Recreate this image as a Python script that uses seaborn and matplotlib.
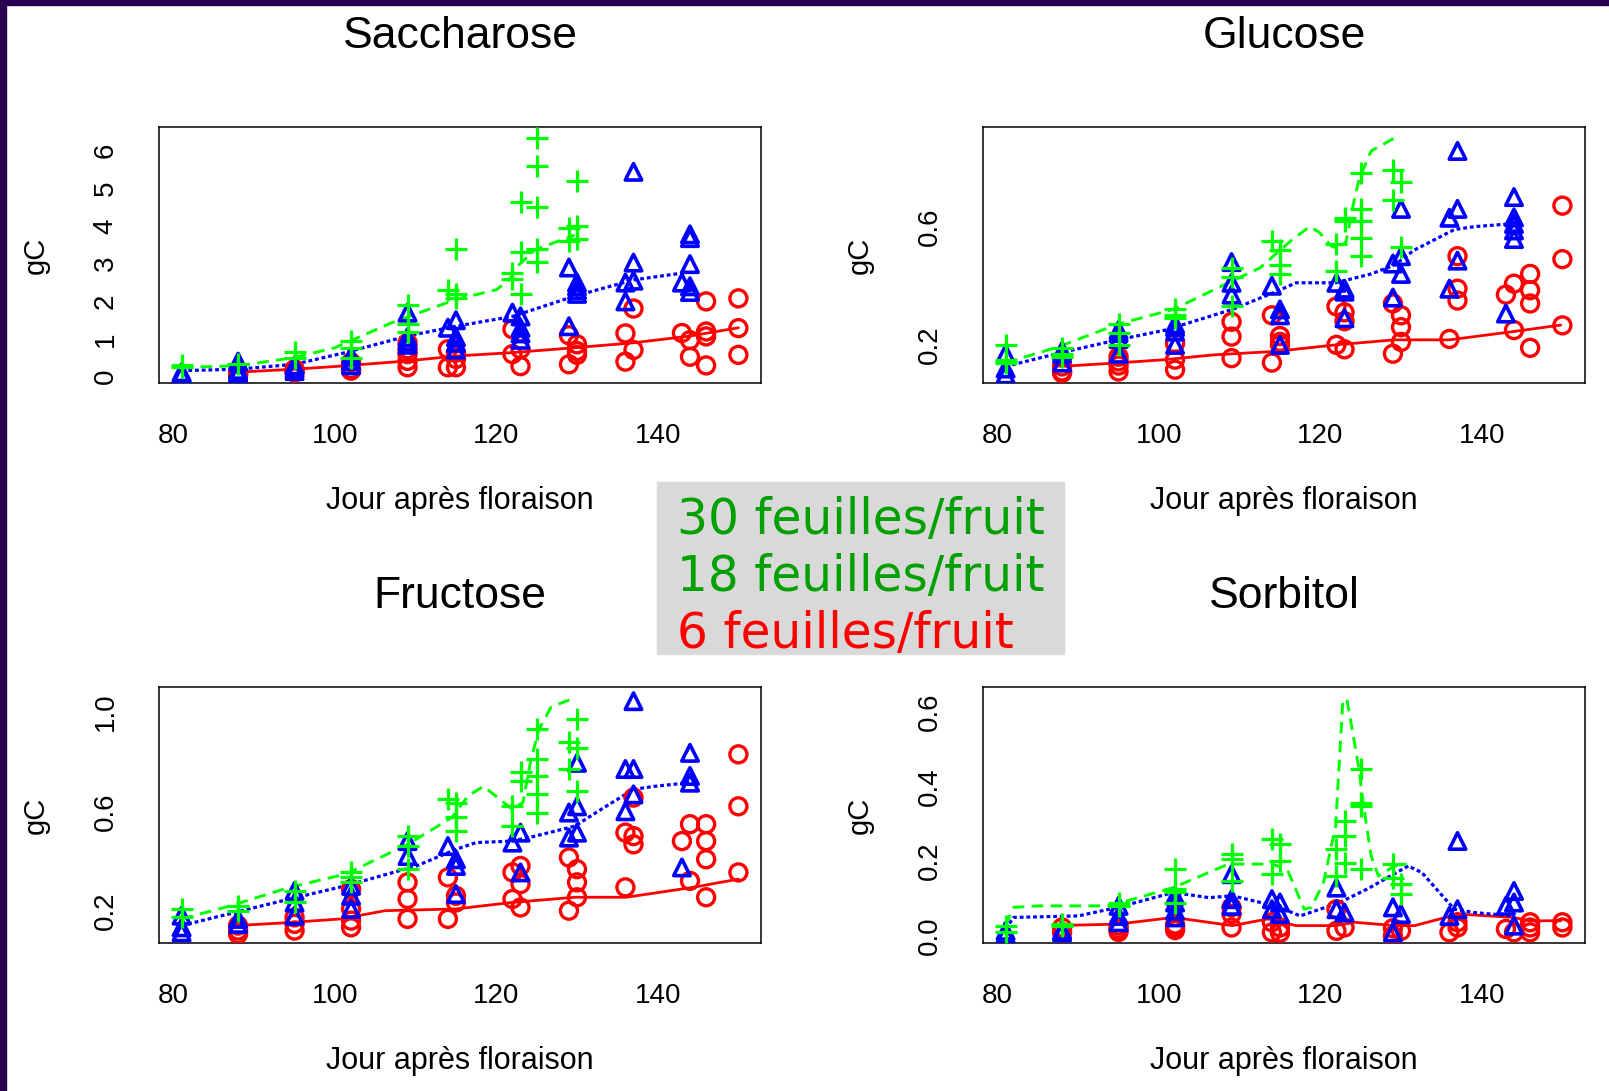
import matplotlib
matplotlib.use("Agg")
import matplotlib.pyplot as plt
import seaborn as sns
import numpy as np
import pandas as pd
from matplotlib.patches import Rectangle

# ---- Saccharose ----
sac_g_day = [81, 81, 88, 95, 95, 102, 102, 102, 109, 109, 109, 114, 115, 115, 115, 122, 122, 123, 123, 123,
             125, 125, 125, 125, 125, 130, 130, 130, 129, 129]
sac_g_val = [0.25, 0.32, 0.35, 0.5, 0.65, 0.95, 0.75, 0.5, 1.9, 1.4, 1.2, 2.3, 3.4, 2.2, 2.1, 2.75, 2.6, 4.65, 3.3, 2.2,
             6.35, 5.6, 4.5, 3.4, 3.05, 5.2, 4.0, 3.65, 3.95, 3.6]
sac_b_day = [81, 81, 81, 88, 88, 88, 88, 95, 95, 95, 102, 102, 102, 109, 109, 109, 109, 114, 115, 115, 115, 115,
             122, 123, 123, 123, 123, 129, 129, 130, 130, 130, 130, 136, 136, 137, 137, 137, 144, 144, 144, 143, 144, 144]
sac_b_val = [0.05, 0.08, 0.12, 0.08, 0.12, 0.18, 0.4, 0.15, 0.22, 0.3, 0.3, 0.42, 0.55, 1.7, 1.05, 0.95, 0.85,
             1.3, 1.5, 1.05, 0.9, 0.72, 1.7, 1.6, 1.3, 1.15, 0.98, 2.9, 1.34, 2.5, 2.4, 2.3, 2.2, 2.5, 2.0,
             5.44, 3.03, 2.55, 3.78, 3.68, 2.99, 2.5, 2.4, 2.25]
sac_r_day = [88, 88, 88, 95, 95, 95, 102, 102, 102, 109, 109, 109, 109, 109, 114, 115, 114, 115, 115,
             122, 122, 123, 123, 129, 129, 130, 130, 130, 136, 136, 137, 137, 143, 144, 144, 146, 146, 146, 146,
             150, 150, 150]
sac_r_val = [0.03, 0.08, 0.12, 0.11, 0.16, 0.2, 0.16, 0.2, 0.38, 0.25, 0.42, 0.6, 0.73, 0.9, 0.25, 0.25, 0.73,
             0.47, 0.64, 1.26, 0.6, 0.73, 0.28, 1.1, 0.33, 0.86, 0.68, 0.58, 1.15, 0.4, 1.81, 0.71, 1.16, 0.97,
             0.53, 2.0, 1.2, 1.07, 0.3, 2.08, 1.29, 0.58]
sac_g_line_day = [81, 88, 95, 100, 107, 115, 120, 121.6, 122.8, 124.8, 129.7]
sac_g_line_val = [0.25, 0.29, 0.51, 0.77, 1.43, 2.05, 2.31, 2.57, 2.97, 3.37, 3.76]
sac_b_line_day = [81, 88, 95, 101.3, 109, 115, 122, 129.7, 137, 143]
sac_b_line_val = [0.16, 0.2, 0.33, 0.64, 1.08, 1.34, 1.6, 2.14, 2.57, 2.75]
sac_r_line_day = [87, 95, 101.3, 109, 115, 122, 129.7, 137, 144, 150]
sac_r_line_val = [0.11, 0.2, 0.29, 0.42, 0.55, 0.64, 0.77, 0.9, 1.08, 1.3]

# ---- Glucose ----
glu_g_day = [81, 81, 81, 88, 88, 88, 95, 95, 95, 102, 102, 102, 109, 109, 109, 114, 115, 115, 115,
             122, 122, 123, 123, 125, 125, 125, 125, 125, 129, 130, 129, 130]
glu_g_val = [0.2, 0.15, 0.14, 0.19, 0.16, 0.17, 0.27, 0.24, 0.2, 0.32, 0.3, 0.29, 0.46, 0.43, 0.33,
             0.55, 0.52, 0.47, 0.44, 0.54, 0.45, 0.63, 0.62, 0.78, 0.66, 0.62, 0.56, 0.5, 0.79, 0.75, 0.69, 0.53]
glu_b_day = [81, 81, 81, 88, 88, 88, 95, 95, 95, 95, 102, 102, 102, 102, 109, 109, 109, 114, 115, 115, 115,
             122, 123, 123, 123, 129, 130, 130, 130, 129, 137, 137, 136, 137, 136, 144, 144, 144, 144, 144, 143]
glu_b_val = [0.17, 0.1, 0.12, 0.14, 0.18, 0.17, 0.25, 0.24, 0.22, 0.17, 0.245, 0.2, 0.27, 0.26, 0.48, 0.37, 0.41,
             0.4, 0.32, 0.3, 0.2, 0.41, 0.39, 0.38, 0.29, 0.36, 0.66, 0.5, 0.44, 0.475, 0.856, 0.66, 0.63, 0.485,
             0.39, 0.7, 0.631, 0.609, 0.587, 0.558, 0.306]
glu_r_day = [88, 88, 88, 95, 95, 95, 95, 102, 102, 102, 109, 109, 109, 114, 114, 115, 115, 115,
             122, 123, 122, 123, 123, 129, 129, 130, 130, 130, 136, 137, 137, 137, 144, 143, 144,
             146, 146, 146, 146, 150, 150, 150]
glu_r_val = [0.105, 0.11, 0.127, 0.16, 0.11, 0.13, 0.144, 0.116, 0.15, 0.205, 0.155, 0.228, 0.278,
             0.14, 0.3, 0.23, 0.21, 0.2, 0.33, 0.31, 0.2, 0.185, 0.28, 0.34, 0.17, 0.3, 0.26, 0.21,
             0.22, 0.5, 0.39, 0.35, 0.407, 0.37, 0.25, 0.44, 0.385, 0.34, 0.19, 0.671, 0.49, 0.266]
glu_g_line_day = [81, 87.6, 94.9, 101.8, 108.6, 112.5, 116.6, 118.7, 119.9, 121.3, 122.3, 123.2, 124.2, 124.8,
                  126.3, 129.2]
glu_g_line_val = [0.139, 0.194, 0.27, 0.32, 0.41, 0.46, 0.558, 0.6, 0.58, 0.535, 0.525, 0.55, 0.69, 0.76,
                  0.856, 0.9]
glu_b_line_day = [81, 87.6, 94.9, 100.8, 109.1, 114.5, 117, 121.9, 126.3, 129.2, 131.6, 136.6, 139.1, 143.9]
glu_b_line_val = [0.127, 0.172, 0.217, 0.25, 0.32, 0.38, 0.41, 0.41, 0.44, 0.47, 0.52, 0.59, 0.6, 0.61]
glu_r_line_day = [87.8, 94.9, 100.8, 106.7, 114.5, 121.9, 129.2, 136, 143.9, 149.8]
glu_r_line_val = [0.127, 0.139, 0.15, 0.166, 0.178, 0.2, 0.217, 0.217, 0.245, 0.267]

# ---- Fructose ----
fru_g_day = [81, 81, 88, 88, 95, 95, 102, 102, 102, 109, 109, 109, 114, 115, 115, 115, 122, 122, 123, 123,
             125, 125, 125, 125, 125, 129, 130, 130, 129, 130]
fru_g_val = [0.207, 0.173, 0.22, 0.2, 0.28, 0.233, 0.354, 0.334, 0.314, 0.5, 0.46, 0.367, 0.648, 0.635, 0.575,
             0.52, 0.54, 0.62, 0.76, 0.72, 0.93, 0.81, 0.74, 0.67, 0.595, 0.88, 0.97, 0.855, 0.77, 0.68]
fru_b_day = [81, 81, 81, 88, 88, 95, 95, 95, 102, 102, 102, 109, 109, 114, 115, 115, 115, 122, 123, 123,
             129, 130, 130, 130, 129, 137, 136, 137, 137, 136, 144, 144, 144, 143]
fru_b_val = [0.18, 0.113, 0.133, 0.147, 0.167, 0.28, 0.233, 0.18, 0.26, 0.207, 0.3, 0.48, 0.42, 0.46, 0.407,
             0.38, 0.267, 0.474, 0.514, 0.354, 0.595, 0.62, 0.795, 0.514, 0.494, 1.043, 0.77, 0.77, 0.668, 0.6,
             0.835, 0.742, 0.715, 0.374]
fru_r_day = [88, 88, 88, 95, 95, 95, 102, 102, 102, 102, 109, 109, 109, 114, 114, 115, 115,
             122, 122, 123, 123, 123, 129, 129, 130, 130, 130, 136, 136, 137, 137, 137, 143, 144, 144,
             146, 146, 146, 146, 150, 150, 150]
fru_r_val = [0.106, 0.12, 0.14, 0.12, 0.173, 0.147, 0.133, 0.16, 0.287, 0.207, 0.167, 0.247, 0.314, 0.167,
             0.334, 0.233, 0.26, 0.247, 0.354, 0.38, 0.307, 0.213, 0.2, 0.414, 0.367, 0.314, 0.254, 0.294,
             0.514, 0.5, 0.467, 0.655, 0.48, 0.548, 0.32, 0.548, 0.48, 0.407, 0.254, 0.829, 0.62, 0.354]
fru_g_line_day = [81, 87.1, 94.4, 101.3, 109.1, 114.5, 116.5, 118.4, 119.9, 121.9, 123.3, 124.3, 125.3, 126.8, 129.7]
fru_g_line_val = [0.167, 0.22, 0.294, 0.347, 0.468, 0.575, 0.662, 0.7, 0.662, 0.61, 0.635, 0.81, 0.93, 1.02, 1.056]
fru_b_line_day = [81, 87.6, 94.4, 101.3, 110.1, 115, 117.5, 121.9, 124.8, 129.7, 133.6, 137, 139.5, 143.9]
fru_b_line_val = [0.14, 0.193, 0.247, 0.3, 0.38, 0.447, 0.474, 0.48, 0.5, 0.54, 0.62, 0.688, 0.7, 0.715]
fru_r_line_day = [87.8, 94.7, 100.8, 106.2, 115, 121.9, 129.7, 136.1, 144.4, 150]
fru_r_line_val = [0.14, 0.153, 0.167, 0.2, 0.207, 0.233, 0.254, 0.254, 0.294, 0.327]

# ---- Sorbitol ----
sor_g_day = [81, 81, 88, 88, 95, 95, 102, 102, 102, 102, 109, 109, 109, 114, 115, 115, 114,
             122, 122, 123, 123, 123, 125, 125, 125, 125, 129, 130, 130, 129]
sor_g_val = [0.027, 0.009, 0.027, 0.031, 0.089, 0.08, 0.178, 0.089, 0.125, 0.116, 0.218, 0.147, 0.205,
             0.259, 0.245, 0.2, 0.165, 0.232, 0.16, 0.308, 0.267, 0.196, 0.446, 0.357, 0.348, 0.178,
             0.192, 0.138, 0.111, 0.156]
sor_b_day = [81, 81, 88, 88, 95, 95, 95, 102, 102, 102, 102, 109, 109, 109, 114, 115, 114, 115,
             122, 122, 123, 129, 130, 129, 137, 136, 137, 144, 144, 143, 144]
sor_b_val = [0.004, 0.013, 0.009, 0.015, 0.08, 0.053, 0.036, 0.089, 0.107, 0.067, 0.049, 0.165, 0.098, 0.08,
             0.098, 0.089, 0.071, 0.058, 0.129, 0.071, 0.062, 0.076, 0.058, 0.009, 0.254, 0.053, 0.071,
             0.12, 0.089, 0.08, 0.027]
sor_r_day = [88, 88, 95, 95, 95, 102, 102, 102, 109, 109, 109, 114, 115, 115, 114, 122, 123, 122,
             129, 130, 129, 136, 137, 137, 143, 144, 146, 146, 146, 150, 150]
sor_r_val = [0.009, 0.022, 0.018, 0.027, 0.01, 0.022, 0.015, 0.03, 0.022, 0.058, 0.076, 0.009, 0.022, 0.008,
             0.036, 0.013, 0.022, 0.071, 0.0, 0.013, 0.02, 0.009, 0.022, 0.036, 0.018, 0.009, 0.009, 0.036,
             0.022, 0.022, 0.036]
sor_g_line_day = [81, 82, 85.1, 93.9, 101.8, 108.6, 114, 115.9, 118, 118.9, 120.4, 121.9, 122.8, 123.3, 124.1,
                  124.8, 125.3, 126.3, 127.2, 129.2, 130.7]
sor_g_line_val = [0.027, 0.076, 0.08, 0.08, 0.129, 0.192, 0.192, 0.178, 0.071, 0.076, 0.143, 0.294, 0.633,
                  0.633, 0.535, 0.446, 0.357, 0.214, 0.16, 0.187, 0.192]
sor_b_line_day = [81, 82, 90, 94.9, 101.8, 106.2, 109.1, 112.6, 114.5, 117.5, 119.4, 122.4, 125.8, 130.9, 132.6,
                  136.6, 139.1, 143.9]
sor_b_line_val = [0.018, 0.049, 0.053, 0.076, 0.116, 0.102, 0.107, 0.089, 0.08, 0.053, 0.067, 0.089, 0.125,
                  0.187, 0.169, 0.071, 0.062, 0.053]
sor_r_line_day = [86.9, 94.9, 101.8, 109.1, 113.5, 117, 121.9, 124.3, 129.2, 131.7, 137.1, 143.9, 145.9, 149.8]
sor_r_line_val = [0.027, 0.031, 0.049, 0.027, 0.045, 0.027, 0.027, 0.036, 0.027, 0.027, 0.058, 0.049, 0.04, 0.04]

legend_labels = ["30 feuilles/fruit", "18 feuilles/fruit", "6 feuilles/fruit"]
legend_colors = ["#00A000", "#00A000", "#FF0000"]

GREEN, BLUE, RED = "#00FF00", "#0000FF", "#FF0000"

sns.set_style("white")
plt.rcParams["font.family"] = ["Liberation Sans", "DejaVu Sans"]
plt.rcParams["text.color"] = "black"
plt.rcParams["axes.labelcolor"] = "black"
plt.rcParams["xtick.color"] = "black"
plt.rcParams["ytick.color"] = "black"

W, H = 1609, 1091
fig = plt.figure(figsize=(W / 100, H / 100), dpi=100)
fig.patch.set_facecolor("white")

# cadre violet foncé (gauche et haut)
fig.add_artist(Rectangle((0, 0), 6 / W, 1, transform=fig.transFigure, color="#2A0050", zorder=10))
fig.add_artist(Rectangle((0, 1 - 5 / H), 1, 5 / H, transform=fig.transFigure, color="#2A0050", zorder=10))

panels = [
    dict(title="Saccharose", pos=(159, 127), ylim=(-0.167, 6.63),
         yticks=[0, 1, 2, 3, 4, 5, 6], ylabels=["0", "1", "2", "3", "4", "5", "6"],
         g=(sac_g_day, sac_g_val), b=(sac_b_day, sac_b_val), r=(sac_r_day, sac_r_val),
         gl=(sac_g_line_day, sac_g_line_val), bl=(sac_b_line_day, sac_b_line_val),
         rl=(sac_r_line_day, sac_r_line_val)),
    dict(title="Glucose", pos=(983, 127), ylim=(0.071, 0.937),
         yticks=[0.2, 0.4, 0.6, 0.8], ylabels=["0.2", "", "0.6", ""],
         g=(glu_g_day, glu_g_val), b=(glu_b_day, glu_b_val), r=(glu_r_day, glu_r_val),
         gl=(glu_g_line_day, glu_g_line_val), bl=(glu_b_line_day, glu_b_line_val),
         rl=(glu_r_line_day, glu_r_line_val)),
    dict(title="Fructose", pos=(159, 687), ylim=(0.070, 1.100),
         yticks=[0.2, 0.4, 0.6, 0.8, 1.0], ylabels=["0.2", "", "0.6", "", "1.0"],
         g=(fru_g_day, fru_g_val), b=(fru_b_day, fru_b_val), r=(fru_r_day, fru_r_val),
         gl=(fru_g_line_day, fru_g_line_val), bl=(fru_b_line_day, fru_b_line_val),
         rl=(fru_r_line_day, fru_r_line_val)),
    dict(title="Sorbitol", pos=(983, 687), ylim=(-0.0196, 0.667),
         yticks=[0, 0.1, 0.2, 0.3, 0.4, 0.5, 0.6], ylabels=["0.0", "", "0.2", "", "0.4", "", "0.6"],
         g=(sor_g_day, sor_g_val), b=(sor_b_day, sor_b_val), r=(sor_r_day, sor_r_val),
         gl=(sor_g_line_day, sor_g_line_val), bl=(sor_b_line_day, sor_b_line_val),
         rl=(sor_r_line_day, sor_r_line_val)),
]

pw, ph = 602, 256
for p in panels:
    x0, y0 = p["pos"]
    ax = fig.add_axes([x0 / W, 1 - (y0 + ph) / H, pw / W, ph / H])

    # courbes lissées
    sns.lineplot(x=p["rl"][0], y=p["rl"][1], ax=ax, color=RED, lw=2.0, sort=False, estimator=None)
    sns.lineplot(x=p["bl"][0], y=p["bl"][1], ax=ax, color=BLUE, lw=2.3, sort=False, estimator=None)
    ax.lines[-1].set_dashes((1.2, 0.9))
    sns.lineplot(x=p["gl"][0], y=p["gl"][1], ax=ax, color=GREEN, lw=2.1, sort=False, estimator=None)
    ax.lines[-1].set_dashes((4, 2.5))

    # points
    sns.scatterplot(x=p["r"][0], y=p["r"][1], ax=ax, marker="o", s=150, facecolor="none",
                    edgecolor=RED, linewidth=2.4, zorder=3)
    sns.scatterplot(x=p["b"][0], y=p["b"][1], ax=ax, marker="^", s=140, facecolor="none",
                    edgecolor=BLUE, linewidth=2.6, zorder=4)
    sns.scatterplot(x=p["g"][0], y=p["g"][1], ax=ax, marker="+", s=260, color=GREEN,
                    linewidth=2.3, zorder=5)

    ax.set_xlim(78.2, 152.8)
    ax.set_ylim(*p["ylim"])
    ax.set_xticks([80, 100, 120, 140])
    ax.set_xticklabels(["80", "100", "120", "140"])
    ax.set_yticks(p["yticks"])
    ax.set_yticklabels(p["ylabels"])
    ax.tick_params(axis="both", direction="out", length=5, width=1.1, labelsize=20, pad=24,
                   color="black", labelcolor="black")
    ax.tick_params(axis="y", labelrotation=90)
    for lbl in ax.get_yticklabels():
        lbl.set_va("center")
    for s in ax.spines.values():
        s.set_color("black")
        s.set_linewidth(1.1)
    ax.set_xlabel("")
    ax.set_ylabel("")
    ax.grid(False)

    cx = (x0 + pw / 2) / W
    fig.text(cx, 1 - (y0 - 90) / H, p["title"], ha="center", va="center", fontsize=32)
    fig.text(cx, 1 - (y0 + ph + 118) / H, "Jour après floraison", ha="center", va="center", fontsize=22)
    fig.text((x0 - 123) / W, 1 - (y0 + ph / 2) / H, "gC", ha="center", va="center", rotation=90,
             fontsize=21)

# encadré légende
fig.add_artist(Rectangle((657 / W, 1 - 654 / H), (1064 - 657) / W, (654 - 482) / H,
                         transform=fig.transFigure, color="#D9D9D9", zorder=1))
for i, (lab, col) in enumerate(zip(legend_labels, legend_colors)):
    fig.text(677 / W, 1 - (520 + 57 * i) / H, lab, color=col, ha="left", va="center",
             fontsize=35, family=["DejaVu Sans"], zorder=2)

fig.savefig("out.png", dpi=100)
